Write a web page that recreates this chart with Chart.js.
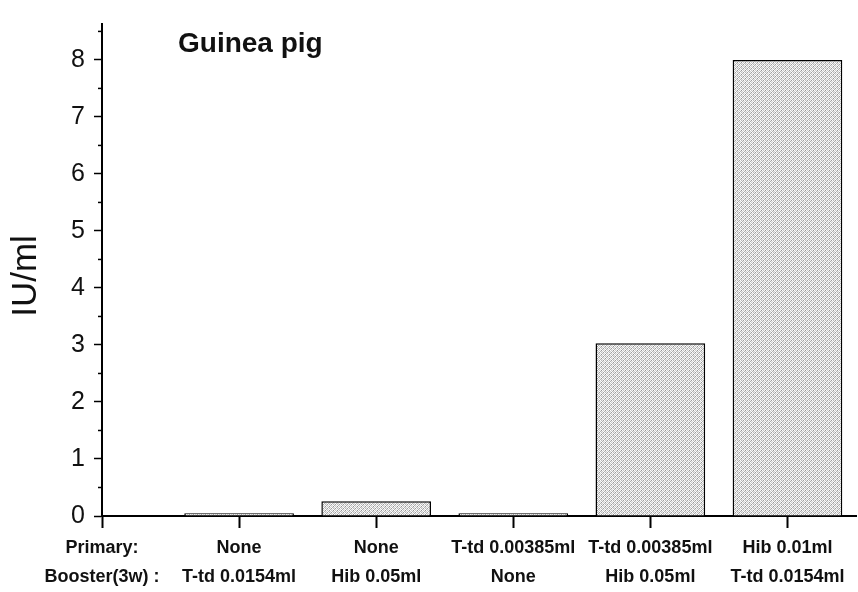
<!DOCTYPE html>
<html>
<head>
<meta charset="utf-8">
<script src="https://cdn.jsdelivr.net/npm/chart.js@4"></script>
<style>
    body { margin: 0; background: #fff; }
    #wrap { width: 858px; height: 592px; }
</style>
</head>
<body>
<div id="wrap"><canvas id="pigChart" width="858" height="592"></canvas></div>
<script>
// data
const rowHeader = ["Primary:", "Booster(3w) :"];
const primary = ["None", "None", "T-td 0.00385ml", "T-td 0.00385ml", "Hib 0.01ml"];
const booster = ["T-td 0.0154ml", "Hib 0.05ml", "None", "Hib 0.05ml", "T-td 0.0154ml"];
const values = [0.05, 0.26, 0.05, 3.03, 8.0];
const yTicks = [0, 1, 2, 3, 4, 5, 6, 7, 8];
const yMinorTicks = [0.5, 1.5, 2.5, 3.5, 4.5, 5.5, 6.5, 7.5, 8.5];

const points = values.map((v, i) => ({ x: i + 1, y: v }));

// grey halftone like fill
function makePattern() {
    const shades = [
        [255, 185, 240, 160],
        [215, 255, 175, 235],
        [245, 150, 255, 200],
        [180, 230, 205, 255]
    ];
    const c = document.createElement("canvas");
    c.width = 4;
    c.height = 4;
    const g = c.getContext("2d");
    for (let r = 0; r < 4; r++) {
        for (let k = 0; k < 4; k++) {
            const s = shades[r][k];
            g.fillStyle = "rgb(" + s + "," + s + "," + s + ")";
            g.fillRect(k, r, 1, 1);
        }
    }
    return g.createPattern(c, "repeat");
}

const extras = {
    id: "extras",
    afterDraw(chart) {
        const ctx = chart.ctx;
        const y = chart.scales.y;
        ctx.save();
        // minor ticks on the value axis
        ctx.strokeStyle = "#000";
        ctx.lineWidth = 1.5;
        yMinorTicks.forEach(v => {
            const py = y.getPixelForValue(v);
            ctx.beginPath();
            ctx.moveTo(y.right - 4, py);
            ctx.lineTo(y.right, py);
            ctx.stroke();
        });
        // panel title
        ctx.fillStyle = "#111";
        ctx.font = "bold 28px 'Liberation Sans', Arial, sans-serif";
        ctx.textAlign = "left";
        ctx.textBaseline = "alphabetic";
        ctx.fillText("Guinea pig", 178, 52);
        // axis title
        ctx.translate(36, 276);
        ctx.rotate(-Math.PI / 2);
        ctx.font = "35px 'Liberation Sans', Arial, sans-serif";
        ctx.textAlign = "center";
        ctx.fillText("IU/ml", 0, 0);
        ctx.restore();
    }
};

const ctx = document.getElementById("pigChart").getContext("2d");
new Chart(ctx, {
    type: "bar",
    data: {
        datasets: [{
            data: points,
            backgroundColor: makePattern(),
            borderColor: "#000",
            borderWidth: 1.5,
            barPercentage: 0.8,
            categoryPercentage: 1.0
        }]
    },
    options: {
        responsive: false,
        animation: false,
        layout: { padding: { top: 10, right: 2, left: 0, bottom: 0 } },
        plugins: {
            legend: { display: false },
            tooltip: { enabled: false }
        },
        scales: {
            x: {
                type: "linear",
                min: 0,
                max: 5.5,
                offset: false,
                afterBuildTicks(scale) {
                    scale.ticks = [0, 1, 2, 3, 4, 5].map(v => ({ value: v }));
                },
                afterFit(scale) { scale.height = 76; },
                grid: {
                    offset: false,
                    drawOnChartArea: false,
                    tickLength: 12,
                    tickColor: "#000",
                    tickWidth: 2
                },
                border: { color: "#000", width: 2 },
                ticks: {
                    autoSkip: false,
                    maxRotation: 0,
                    minRotation: 0,
                    padding: 5,
                    color: "#111",
                    font: { family: "'Liberation Sans', Arial, sans-serif", size: 18, weight: "bold", lineHeight: 1.62 },
                    callback(value) {
                        if (value === 0) return rowHeader;
                        return [primary[value - 1], booster[value - 1]];
                    }
                }
            },
            y: {
                min: 0,
                max: 8.63,
                afterBuildTicks(scale) {
                    scale.ticks = yTicks.map(v => ({ value: v }));
                },
                afterFit(scale) { scale.width = 102; },
                grid: {
                    drawOnChartArea: false,
                    tickLength: 8,
                    tickColor: "#000",
                    tickWidth: 1.5
                },
                border: { color: "#000", width: 2 },
                ticks: {
                    padding: 9,
                    color: "#111",
                    font: { family: "'Liberation Sans', Arial, sans-serif", size: 25 }
                }
            }
        }
    },
    plugins: [extras]
});
</script>
</body>
</html>
